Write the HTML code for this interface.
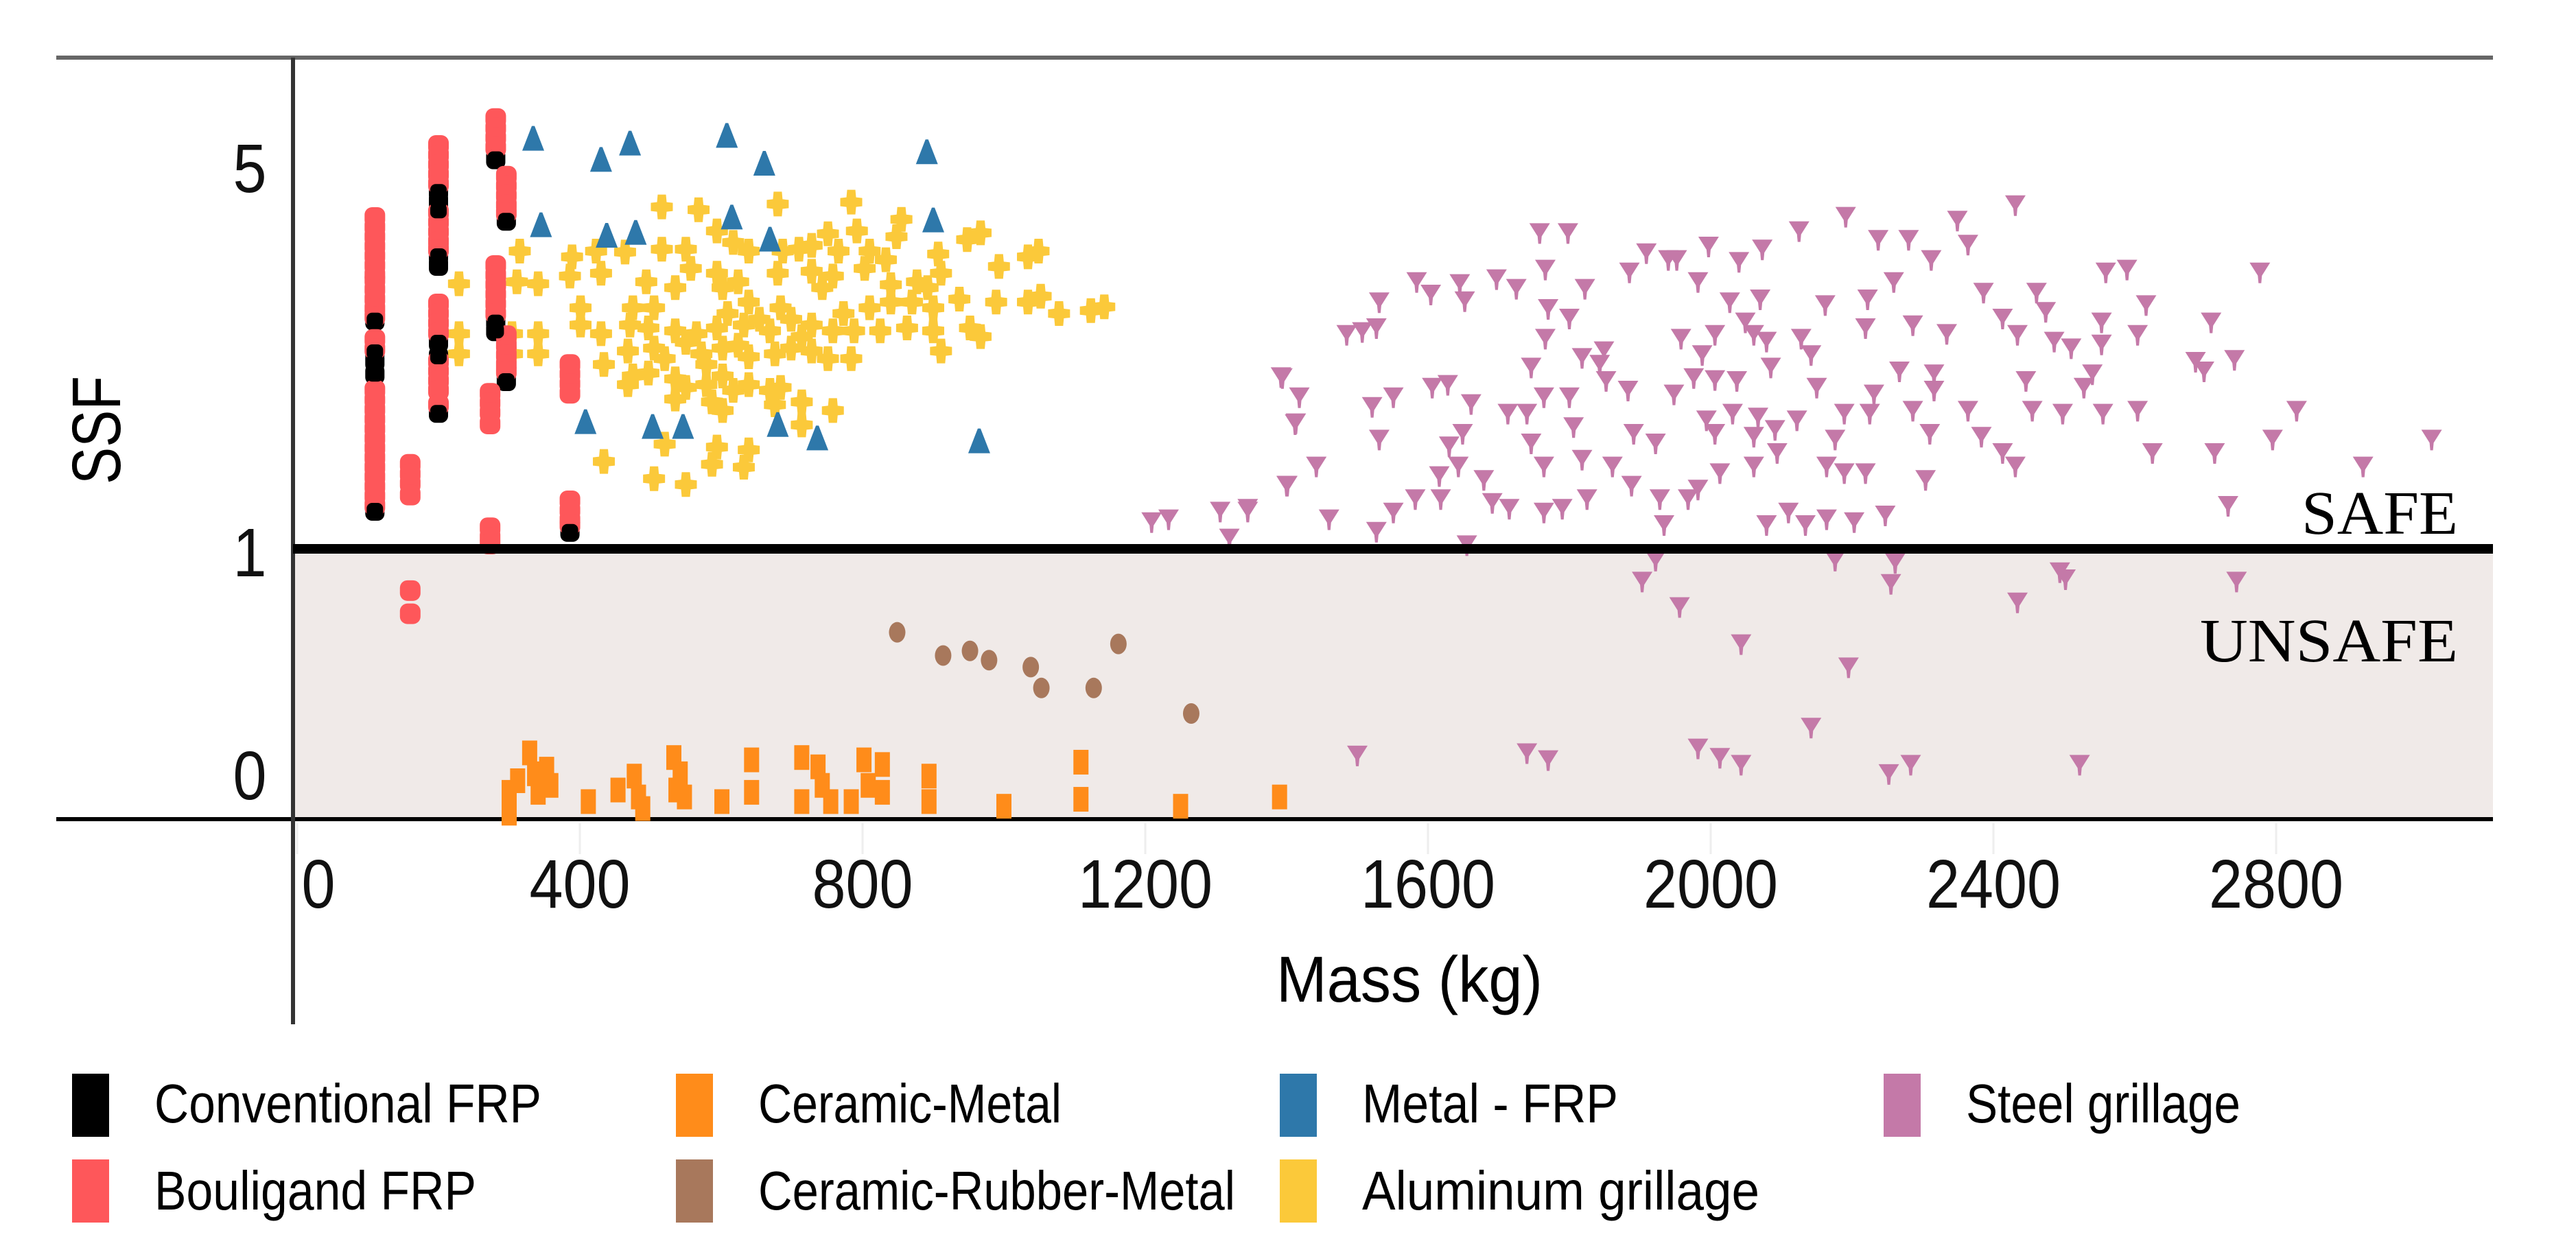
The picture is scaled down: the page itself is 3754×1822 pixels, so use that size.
<!DOCTYPE html>
<html><head><meta charset="utf-8"><style>
html,body{margin:0;padding:0;background:#fff;}
svg{display:block;}
text{font-family:"Liberation Sans",sans-serif;}
</style></head><body>
<svg id="chart" xmlns="http://www.w3.org/2000/svg" width="3754" height="1822" viewBox="0 0 3754 1822">
<rect x="427" y="800" width="3206" height="394" fill="#f0eae8"/>
<line x1="82" y1="84" x2="3633" y2="84" stroke="#666" stroke-width="6"/>
<line x1="82" y1="1194" x2="3633" y2="1194" stroke="#000" stroke-width="6"/>
<line x1="427" y1="84" x2="427" y2="1493" stroke="#333" stroke-width="6"/>
<g id="marks"></g>
<line x1="427" y1="800" x2="3633" y2="800" stroke="#000" stroke-width="14"/>
<text x="3582" y="778" text-anchor="end" font-size="90" textLength="228" lengthAdjust="spacingAndGlyphs" style="font-family:'Liberation Serif',serif">SAFE</text>
<text x="3582" y="964" text-anchor="end" font-size="90" textLength="376" lengthAdjust="spacingAndGlyphs" style="font-family:'Liberation Serif',serif">UNSAFE</text>
<g id="ticks"></g>
<text x="1860" y="1460" font-size="95" textLength="388" lengthAdjust="spacingAndGlyphs">Mass (kg)</text>
<text x="0" y="0" font-size="100" text-anchor="middle" textLength="158" lengthAdjust="spacingAndGlyphs" transform="translate(175,627) rotate(-90)">SSF</text>
<g id="legend"></g>
</svg>
<script>
const NS="http://www.w3.org/2000/svg";
// ---- data ----
const xTicks=[0,400,800,1200,1600,2000,2400,2800];
const yTicks=[0,1,5];
const convMass=[110,110,110,110,110,200,200,200,200,200,200,200,200,281,281,281,296,296,386];
const convSSF=[3.38,3.05,2.95,2.82,1.4,4.72,4.62,4.52,4.05,3.95,3.15,3.0,2.42,5.06,3.36,3.27,4.42,2.75,1.18];
const bouMass=[110,110,110,110,110,110,110,110,110,110,110,110,110,110,110,110,110,110,110,110,110,110,110,110,110,110,110,
200,200,200,200,200,200,200,200,200,200,200,200,200,200,200,200,200,200,200,
281,281,281,281,281,281,281,281,281,281,
296,296,296,296,296,296,296,296,296,296,
273,273,273,273,273,273,273,
386,386,386,386,386,386,386,386,
160,160,160,160,160,160];
const bouSSF=[4.45,4.35,4.25,4.15,4.05,3.95,3.85,3.8,3.7,3.6,3.5,3.42,3.18,3.08,2.65,2.55,2.45,2.35,2.25,2.15,2.05,1.95,1.85,1.75,1.65,1.55,1.45,
5.2,5.1,5.0,4.9,4.8,4.5,4.4,4.3,4.2,4.12,3.55,3.45,3.35,3.25,2.95,2.85,2.75,2.65,2.5,
5.48,5.38,5.28,5.18,3.95,3.85,3.75,3.65,3.55,3.45,
4.88,4.78,4.68,4.58,4.5,3.22,3.12,3.02,2.92,2.85,
2.62,2.52,2.42,2.3,1.22,1.12,1.05,
2.92,2.82,2.72,2.62,1.5,1.4,1.3,1.25,
1.88,1.78,1.68,1.56,0.82,0.72];
const cmMass=[300,300,312,329,336,341,353,359,412,454,477,483,489,533,536,542,548,601,643,643,714,714,737,743,755,784,802,808,828,828,894,894,1000,1109,1109,1250,1390];
const cmSSF=[-0.05,-0.14,0.0,0.12,0.03,-0.05,0.05,-0.02,-0.09,-0.04,0.02,-0.07,-0.12,0.10,-0.04,0.03,-0.07,-0.09,0.09,-0.05,0.10,-0.09,0.06,-0.02,-0.09,-0.09,0.09,-0.02,0.07,-0.05,0.02,-0.09,-0.11,0.08,-0.08,-0.11,-0.07];
const crmMass=[849,914,952,979,1038,1053,1127,1162,1265];
const crmSSF=[0.64,0.54,0.56,0.52,0.49,0.40,0.40,0.59,0.29];
const mfMass=[334,430,471,608,661,891,345,438,479,615,669,900,408,503,546,680,736,965];
const mfSSF=[5.26,5.04,5.21,5.29,5.0,5.12,4.36,4.25,4.28,4.44,4.21,4.41,2.31,2.26,2.26,2.28,2.14,2.11];
const alMass=[516,568,680,784,855,967,948,848,792,751,594,617,639,687,710,728,766,810,907,1049,1034,993,315,389,423,464,516,550,
229,311,341,386,430,494,535,557,594,602,624,680,728,758,743,803,833,840,877,911,892,
401,475,505,609,639,684,699,728,773,810,840,870,900,937,989,1034,1052,1078,1123,1142,
229,229,304,304,341,341,401,430,471,497,535,565,594,632,654,669,714,758,788,825,863,900,952,967,
434,468,475,505,520,550,572,579,602,624,639,676,699,728,751,784,911,
468,497,535,550,579,602,617,639,669,684,535,587,602,676,714,758,714,520,594,639,434,587,632,505,550];
const alSSF=[4.56,4.53,4.59,4.61,4.43,4.29,4.22,4.25,4.31,4.28,4.31,4.19,4.10,4.10,4.12,4.16,4.10,4.10,4.07,4.10,4.04,3.94,4.10,4.04,4.10,4.09,4.12,4.12,
3.76,3.78,3.76,3.84,3.87,3.78,3.72,3.92,3.87,3.72,3.78,3.87,3.89,3.84,3.72,3.92,4.01,3.75,3.78,3.87,3.72,
3.51,3.51,3.51,3.45,3.57,3.51,3.39,3.33,3.45,3.51,3.57,3.57,3.51,3.60,3.57,3.57,3.63,3.45,3.48,3.52,
3.24,3.03,3.24,3.03,3.24,3.03,3.33,3.24,3.33,3.30,3.27,3.24,3.30,3.33,3.39,3.27,3.21,3.27,3.27,3.27,3.30,3.27,3.30,3.21,
2.92,3.06,2.80,3.09,2.98,3.15,3.03,2.92,3.09,3.12,3.00,3.03,3.09,3.06,2.98,2.98,3.06,
2.71,2.83,2.77,2.68,2.71,2.80,2.65,2.71,2.65,2.68,2.56,2.53,2.44,2.50,2.53,2.44,2.29,2.09,2.06,2.03,1.91,1.88,1.85,1.73,1.67];
const stMass=[2431,2191,2349,2364,1758,1798,2125,2237,2280,2312,1909,1940,1952,1997,2040,2073,1885,1766,1822,1584,1604,1645,1652,1697,1725,1531,1770,1800,1982,2027,2070,2162,2222,2259,2386,2461,2474,2559,2589,2777,2616,
1485,1507,1527,1766,1849,1818,1843,1958,1988,2006,2049,2061,2079,2128,2142,2219,2286,2334,2413,2434,2486,2510,2553,2553,2604,2708,2686,2698,2741,
1394,1418,1412,1521,1551,1606,1628,1661,1713,1740,1746,1764,1800,1852,1883,1948,1976,2006,2037,1994,2031,2067,2085,2091,2122,2150,2189,2225,2231,2267,2286,2316,2316,2310,2364,2383,2413,2431,2446,2455,2498,2528,2540,2555,2604,2829,2795,3020,2625,2713,2923,
1531,1649,1630,1746,1806,1891,1922,2006,2061,2094,2176,1442,1400,1345,1460,1551,1582,1618,1616,1643,1679,1691,1715,1764,1764,1790,1825,1818,1861,1888,1928,1968,1982,2013,2061,2164,2189,2219,2304,
1934,2079,2110,2134,2164,2203,2247,2732,1527,1655,1392,1413,1401,1209,1233,1306,1345,1319,
1922,2176,2261,1903,2255,2494,2502,2744,2434,1956,2043,2195,2142,1500,1740,1770,1982,2013,2043,2252,2283,2522];
const stSSF=[4.58,4.46,4.42,4.17,4.29,4.29,4.31,4.22,4.22,4.01,4.08,4.01,4.01,4.15,3.99,4.12,3.88,3.91,3.71,3.78,3.65,3.76,3.58,3.81,3.71,3.57,3.50,3.40,3.78,3.57,3.60,3.54,3.60,3.78,3.67,3.67,3.47,3.88,3.91,3.88,3.54,
3.23,3.26,3.30,3.19,3.06,2.99,2.92,3.19,3.02,3.23,3.36,3.23,3.16,3.19,3.02,3.30,3.33,3.24,3.40,3.23,3.16,3.09,3.36,3.13,3.23,3.36,2.95,2.85,2.97,
2.78,2.58,2.30,2.48,2.58,2.68,2.71,2.51,2.41,2.41,2.89,2.58,2.58,2.75,2.65,2.61,2.78,2.76,2.75,2.34,2.41,2.37,2.89,2.24,2.34,2.68,2.41,2.41,2.61,2.85,2.44,2.82,2.65,2.20,2.44,2.17,2.00,1.86,2.75,2.44,2.41,2.68,2.82,2.41,2.44,2.44,2.14,2.14,2.00,2.00,1.86,
2.14,2.20,2.07,2.10,2.27,2.20,2.10,2.20,2.17,2.00,2.14,1.86,1.66,1.42,1.31,1.38,1.52,1.52,1.76,1.86,1.72,1.48,1.42,1.86,1.38,1.42,1.52,1.93,1.86,1.66,1.52,1.52,1.62,1.79,1.86,1.86,1.79,1.79,1.72,
1.25,1.25,1.38,1.25,1.31,1.28,1.35,1.45,1.18,1.04,2.79,2.31,1.66,1.28,1.31,1.39,1.39,1.11,
0.95,0.95,0.94,0.86,0.85,0.90,0.87,0.86,0.77,0.75,0.59,0.49,0.23,0.11,0.12,0.09,0.14,0.10,0.07,0.03,0.07,0.07];
const legendLabels=["Conventional FRP","Ceramic-Metal","Metal - FRP","Steel grillage","Bouligand FRP","Ceramic-Rubber-Metal","Aluminum grillage"];
const legendColors=["#000000","#ff8c1a","#2e78aa","#c479a8","#fe575a","#a8785c","#fbc93a"];

// ---- scales ----
function xs(m){return 433+1.03*m;}
function ys(s){return s>=1 ? 800-140*(s-1) : 1138-338*s;}

const marks=document.getElementById('marks');
function mk(tag,attrs,parent){const e=document.createElementNS(NS,tag);for(const k in attrs)e.setAttribute(k,attrs[k]);(parent||marks).appendChild(e);return e;}

// steel grillage (down triangles)
for(let i=0;i<stMass.length;i++){const x=xs(stMass[i]),y=ys(stSSF[i]);
 const p=mk('path',{d:`M${x-15},${y-14} L${x+15},${y-14} L${x+3},${y+5} L${x+2},${y+16} L${x-2},${y+16} L${x-3},${y+5} Z`,fill:'#c479a8'});
 
 }
// aluminum grillage
for(let i=0;i<alMass.length;i++){const x=xs(alMass[i]),y=ys(alSSF[i]);
 const p=mk('path',{d:`M${x-6},${y-18} L${x+6},${y-18} L${x+7},${y-7} L${x+16},${y-6} L${x+16},${y+6} L${x+7},${y+7} L${x+6},${y+18} L${x-6},${y+18} L${x-7},${y+7} L${x-16},${y+6} L${x-16},${y-6} L${x-7},${y-7} Z`,fill:'#fbc93a'});
 
 }
// metal-FRP (up triangles)
for(let i=0;i<mfMass.length;i++){const x=xs(mfMass[i]),y=ys(mfSSF[i]);
 const p=mk('path',{d:`M${x-2},${y-20} L${x+2},${y-20} L${x+16},${y+16} L${x-16},${y+16} Z`,fill:'#2e78aa'});
 
 }
// ceramic-metal
for(let i=0;i<cmMass.length;i++){const x=xs(cmMass[i]),y=ys(cmSSF[i]);
 const p=mk('rect',{x:x-11,y:y-18,width:22,height:36,fill:'#ff8c1a'});
 
 }
// ceramic-rubber-metal
for(let i=0;i<crmMass.length;i++){const x=xs(crmMass[i]),y=ys(crmSSF[i]);
 const p=mk('ellipse',{cx:x,cy:y,rx:12,ry:15,fill:'#a8785c'});
 
 }
// conventional FRP
for(let i=0;i<convMass.length;i++){const x=xs(convMass[i]),y=ys(convSSF[i]);
 const p=mk('rect',{x:x-14,y:y-15,width:28,height:30,rx:10,fill:'#000'});
 
 }
// bouligand FRP
for(let i=0;i<bouMass.length;i++){const x=xs(bouMass[i]),y=ys(bouSSF[i]);
 const p=mk('rect',{x:x-15,y:y-15,width:30,height:30,rx:11,fill:'#fe575a'});
 
 }
// conventional black ends drawn on top
for(let i=0;i<convMass.length;i++){const x=xs(convMass[i]),y=ys(convSSF[i]);
 const p=mk('rect',{x:x-12,y:y-11,width:24,height:22,rx:8,fill:'#000'});
 
 }

// ticks
const ticks=document.getElementById('ticks');
for(const t of xTicks){
 const tx=t===0?464:xs(t);
 const w=String(t).length*49;
 const e=mk('text',{x:tx,y:1323,'text-anchor':'middle','font-size':100,textLength:w,lengthAdjust:'spacingAndGlyphs',fill:'#111'},ticks);
 e.textContent=t;
 
 
 const g=mk('line',{x1:xs(t),y1:1200,x2:xs(t),y2:1245,stroke:'#eee','stroke-width':3},ticks);
 
 
}
for(const t of yTicks){
 const e=mk('text',{x:364,y:(t===0?1129:ys(t)+4)+36,'text-anchor':'middle','font-size':100,textLength:49,lengthAdjust:'spacingAndGlyphs',fill:'#111'},ticks);
 e.textContent=t;
 
 
}

// legend
const lg=document.getElementById('legend');
const colX=[105,985,1865,2745];
const txtW=[564,442,373,400,469,695,579];
for(let i=0;i<legendLabels.length;i++){
 const row=i<4?0:1, col=i<4?i:i-4;
 const g=mk('g',{},lg);
 
 
 const sy=row?1690:1565;
 const r=mk('rect',{x:colX[col],y:sy,width:54,height:92,fill:legendColors[i]},g);
 
 
 const t=mk('text',{x:colX[col]+120,y:row?1763:1636,'font-size':80,textLength:txtW[i],lengthAdjust:'spacingAndGlyphs',fill:'#000'},g);
 t.textContent=legendLabels[i];
 
 
}
</script>
</body></html>
